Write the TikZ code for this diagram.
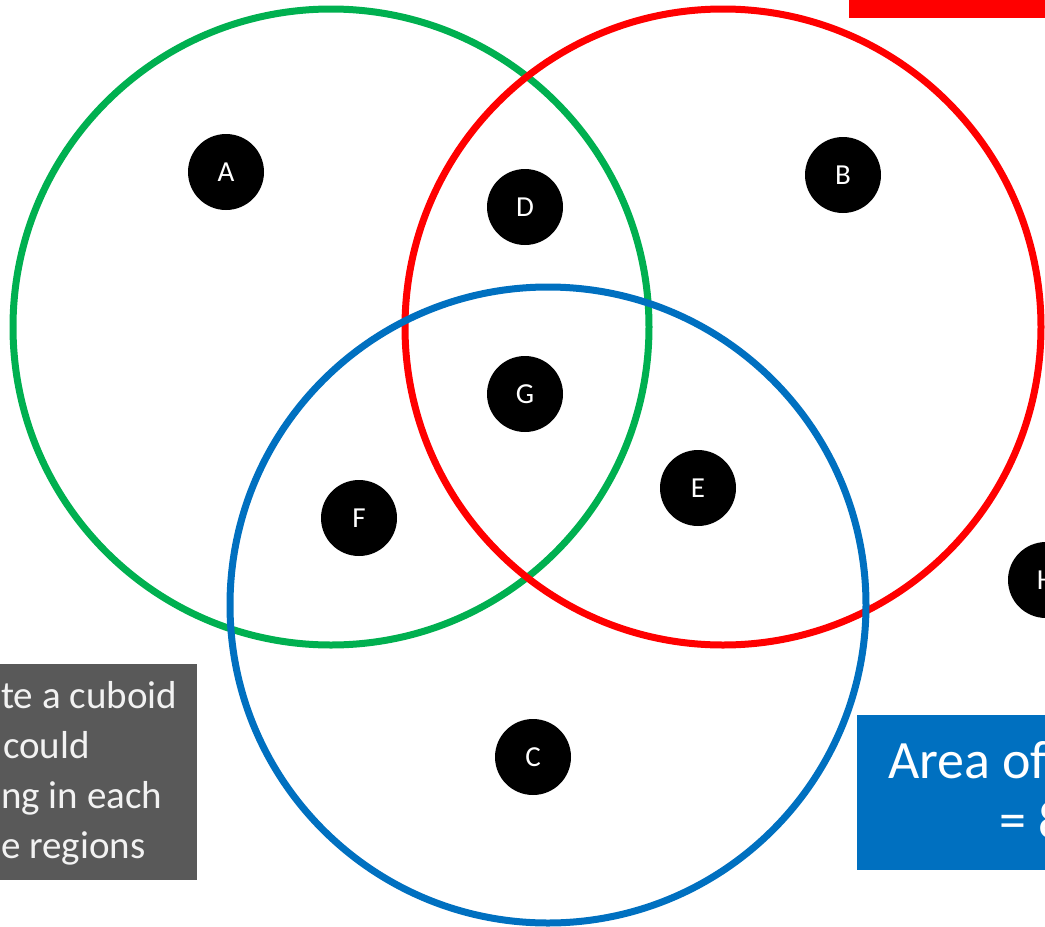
\documentclass[tikz,border=0pt]{standalone}
\usepackage{fontspec}
\setmainfont{Carlito}
\definecolor{vgreen}{HTML}{00B050}
\definecolor{vred}{HTML}{FF0000}
\definecolor{vblue}{HTML}{0070C0}
\definecolor{boxgrey}{HTML}{595959}
\definecolor{greytext}{HTML}{F2F2F2}
\begin{document}
\begin{tikzpicture}[x=1pt,y=-1pt,
  ring/.style={line width=7pt},
  dot/.style={circle,fill=black,minimum size=76pt,inner sep=0pt,text=white,font=\fontsize{29}{29}\selectfont}]
\useasboundingbox (0,0) rectangle (1045,927);
\clip (0,0) rectangle (1045,927);
% red bar top right
\fill[vred] (849,0) rectangle (1045,18);
% circles
\draw[ring,vgreen] (331,327) circle[radius=318];
\draw[ring,vred] (723,327) circle[radius=318];
\draw[ring,vblue] (548,605) circle[radius=318];
% region labels
\node[dot] (A) at (226,172) {A};
\node[dot] (B) at (843,175) {B};
\node[dot] (D) at (525,207) {D};
\node[dot] (G) at (525,394) {G};
\node[dot] (E) at (698,488) {E};
\node[dot] (F) at (359,518) {F};
\node[dot] (C) at (533,757) {C};
\node[dot] (H) at (1046,580) {H};
% grey box
\fill[boxgrey] (-5,664) rectangle (197,880);
\node[anchor=north west,inner sep=0pt,text=greytext,align=left,font=\fontsize{39}{50}\selectfont] (task) at (1,681)
 {te a cuboid\\\hspace*{2pt}could\\ng in each\\e regions};
% blue box
\fill[vblue] (857,715) rectangle (1060,870);
\node[anchor=base west,inner sep=0pt,text=white,font=\fontsize{54}{54}\selectfont] (area) at (888,778) {Area of};
\node[anchor=base west,inner sep=0pt,text=white,font=\fontsize{54}{54}\selectfont] (eq) at (999,838) {= 8};
\end{tikzpicture}
\end{document}
